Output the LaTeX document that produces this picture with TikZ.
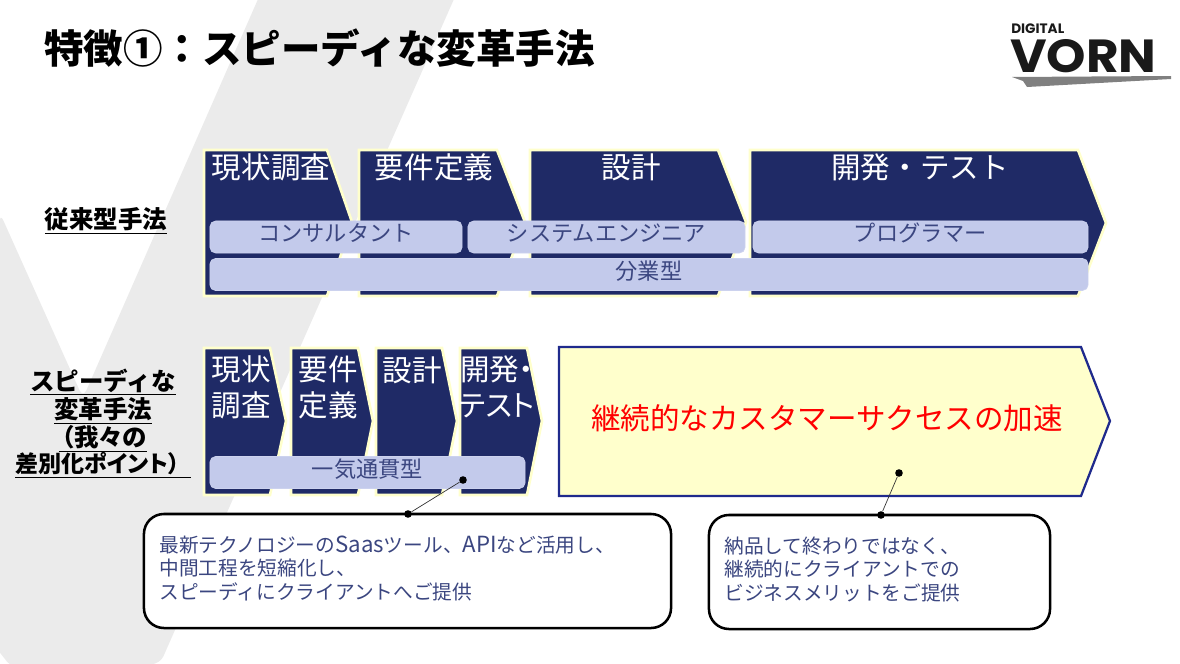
\documentclass[tikz,border=0pt]{standalone}
\usepackage{fontspec}
\setmainfont{Noto Sans CJK JP}
\newfontfamily\propfont[RawFeature=+palt]{Noto Sans CJK JP}
\newfontfamily\logofont{Poppins}
\usepackage{xcolor}
\usepackage{tikz}
\usetikzlibrary{positioning}
\definecolor{navy}{HTML}{1F2A66}
\definecolor{paleyellow}{HTML}{FFFFCC}
\definecolor{barblue}{HTML}{C3CAEB}
\definecolor{inktext}{HTML}{3B4680}
\definecolor{backgray}{HTML}{EBEBEB}
\definecolor{edgeblue}{HTML}{1F2A8C}
\newcommand{\latinword}[1]{{\fontsize{15.8}{16.4}\selectfont #1}}
\tikzstyle{stage} = [fill=navy, draw=paleyellow, line width=1.9pt, line join=miter]
\tikzstyle{stagetext} = [text=white, font=\fontsize{21}{25}\selectfont, align=center, inner sep=0pt]
\tikzstyle{bar} = [rectangle, rounded corners=4pt, fill=barblue, draw=barblue!85!white, line width=0.5pt, minimum height=0.8cm, inner sep=0pt, text height=11pt, text depth=3.9pt, text=inktext, font=\fontsize{15.8}{18}\selectfont]
\tikzstyle{sidetext} = [font=\fontsize{17.4}{20}\selectfont\bfseries, inner sep=0pt]
\tikzstyle{callout} = [rectangle, rounded corners=0.5cm, draw=black, line width=1.8pt, fill=white, minimum height=2.85cm, inner xsep=0.385cm, inner ysep=0pt, text depth=37.5pt, text=inktext, align=left, font=\fontsize{14}{16.4}\selectfont]
\tikzstyle{pin} = [circle, fill=black, inner sep=0pt, minimum size=0.19cm]
\begin{document}
\begin{tikzpicture}[x=0.025cm,y=-0.025cm]
	\useasboundingbox (0,0) rectangle (1180,664);
	\coordinate (oldsurvey) at (271,167);
	\coordinate (oldreq) at (434,167);
	\coordinate (olddesign) at (631,167);
	\coordinate (olddev) at (920,167);
	\coordinate (newsurvey) at (241,387);
	\coordinate (newreq) at (328,387);
	\coordinate (newdesign) at (412,370);
	\coordinate (newdev) at (497,387);
	% Background
	\fill[backgray, rounded corners=6pt] (0,213) -- (83,398) -- (262,-10) -- (458,-10) -- (160,664) -- (12,668) -- (-10,640) -- cycle;
	% Title and logo
	\node[name=title, anchor=west, inner sep=0pt, font=\fontsize{28.1}{32}\selectfont\bfseries] at (44,48) {特徴①：スピーディな変革手法};
	\node[name=digital, anchor=west, inner sep=0pt, text=black!90, font=\logofont\fontsize{9.7}{12}\selectfont\bfseries] at (1011,29) {DIGITAL};
	\node[name=vorn, anchor=west, inner sep=0pt, text=black!90, font=\logofont\fontsize{33}{36}\selectfont\bfseries] at (1010,56) {\scalebox{1.08}[1]{VORN}};
	\fill[black!50] (1012,77) -- (1171,76) -- (1171,79) -- (1027,87) -- (1023,81) -- cycle;
	% Conventional stages
	\draw[stage] (204,150) -- (327,150) -- (352,222) -- (327,296) -- (204,296) -- cycle;
	\draw[stage] (359,150) -- (497,150) -- (525,222) -- (497,296) -- (359,296) -- cycle;
	\draw[stage] (530,150) -- (718,150) -- (746,222) -- (718,296) -- (530,296) -- cycle;
	\draw[stage] (750,150) -- (1078,150) -- (1106,223) -- (1078,296) -- (750,296) -- cycle;
	\begin{scope}[every node/.style={stagetext}]
	\node[name=oldsurvey] at (oldsurvey) {現状調査};
	\node[name=oldreq] at (oldreq) {要件定義};
	\node[name=olddesign] at (olddesign) {設計};
	\node[name=olddev] at (olddev) {開発・テスト};
	\end{scope}
	% Roles
	\node[bar, name=consultant, minimum width=6.3cm] at (336,237) {コンサルタント};
	\node[bar, name=engineer, minimum width=6.925cm] at (606.5,237) {システムエンジニア};
	\node[bar, name=programmer, minimum width=8.375cm] at (920.5,237) {プログラマー};
	\node[bar, name=division, minimum width=21.95cm] at (649,274.5) {分業型};
	% Speedy stages
	\draw[stage] (204,348) -- (270,348) -- (286,421) -- (270,495) -- (204,495) -- cycle;
	\draw[stage] (291,348) -- (358,348) -- (373,421) -- (358,495) -- (291,495) -- cycle;
	\draw[stage] (376,348) -- (442,348) -- (457,421) -- (442,495) -- (376,495) -- cycle;
	\draw[stage] (460,348) -- (527,348) -- (542,421) -- (527,495) -- (460,495) -- cycle;
	\begin{scope}[every node/.style={stagetext}]
	\node[name=newsurvey] at (newsurvey) {現状\\[0.5pt]調査};
	\node[name=newreq] at (newreq) {要件\\[0.5pt]定義};
	\node[name=newdesign] at (newdesign) {設計};
	\node[name=newdev, font=\propfont\fontsize{21}{25}\selectfont] at (newdev) {開発・\\[0.5pt]テスト};
	\end{scope}
	\node[bar, name=straight, minimum width=7.875cm] at (367.5,472.5) {一気通貫型};
	% Customer success
	\draw[draw=edgeblue, fill=paleyellow, line width=1.6pt] (559,347) -- (1081,347) -- (1110,421) -- (1081,496) -- (559,496) -- cycle;
	\node[name=success, text=red, inner sep=0pt, font=\fontsize{21}{24}\selectfont] at (827,418) {継続的なカスタマーサクセスの加速};
	% Side labels
	\begin{scope}[every node/.style={sidetext}]
	\node[name=oldlabel] at (106,221) {\underline{従来型手法}};
	\node[name=newlabel1] at (103,382) {\underline{スピーディな}};
	\node[name=newlabel2] at (103,411) {\underline{変革手法}};
	\node[name=newlabel3, anchor=east] at (147,439) {\underline{\makebox[62.6pt][r]{\propfont（我々の}}};
	\node[name=newlabel4, anchor=west] at (15,465) {\underline{\makebox[125.2pt][l]{\propfont\fontsize{16.4}{20}\selectfont 差別化ポイント）}}};
	\end{scope}
	% Callouts
	\node[callout, name=toolbox, text width=12.405cm] at (407.5,571) {最新テクノロジーの\latinword{Saas}ツール、\latinword{API}など活用し、\\中間工程を短縮化し、\\スピーディにクライアントへご提供};
	\node[callout, name=meritbox, text width=7.755cm] at (879.5,572) {納品して終わりではなく、\\継続的にクライアントでの\\ビジネスメリットをご提供};
	\node[pin, name=toolpin] at (463,480) {};
	\node[pin, name=toolfoot] at (408,514) {};
	\node[pin, name=meritpin] at (899,473) {};
	\node[pin, name=meritfoot] at (881,515) {};
	\draw[black!80, line width=0.5pt] (toolpin)--(toolfoot);
	\draw[black!80, line width=0.5pt] (meritpin)--(meritfoot);
\end{tikzpicture}
\end{document}
